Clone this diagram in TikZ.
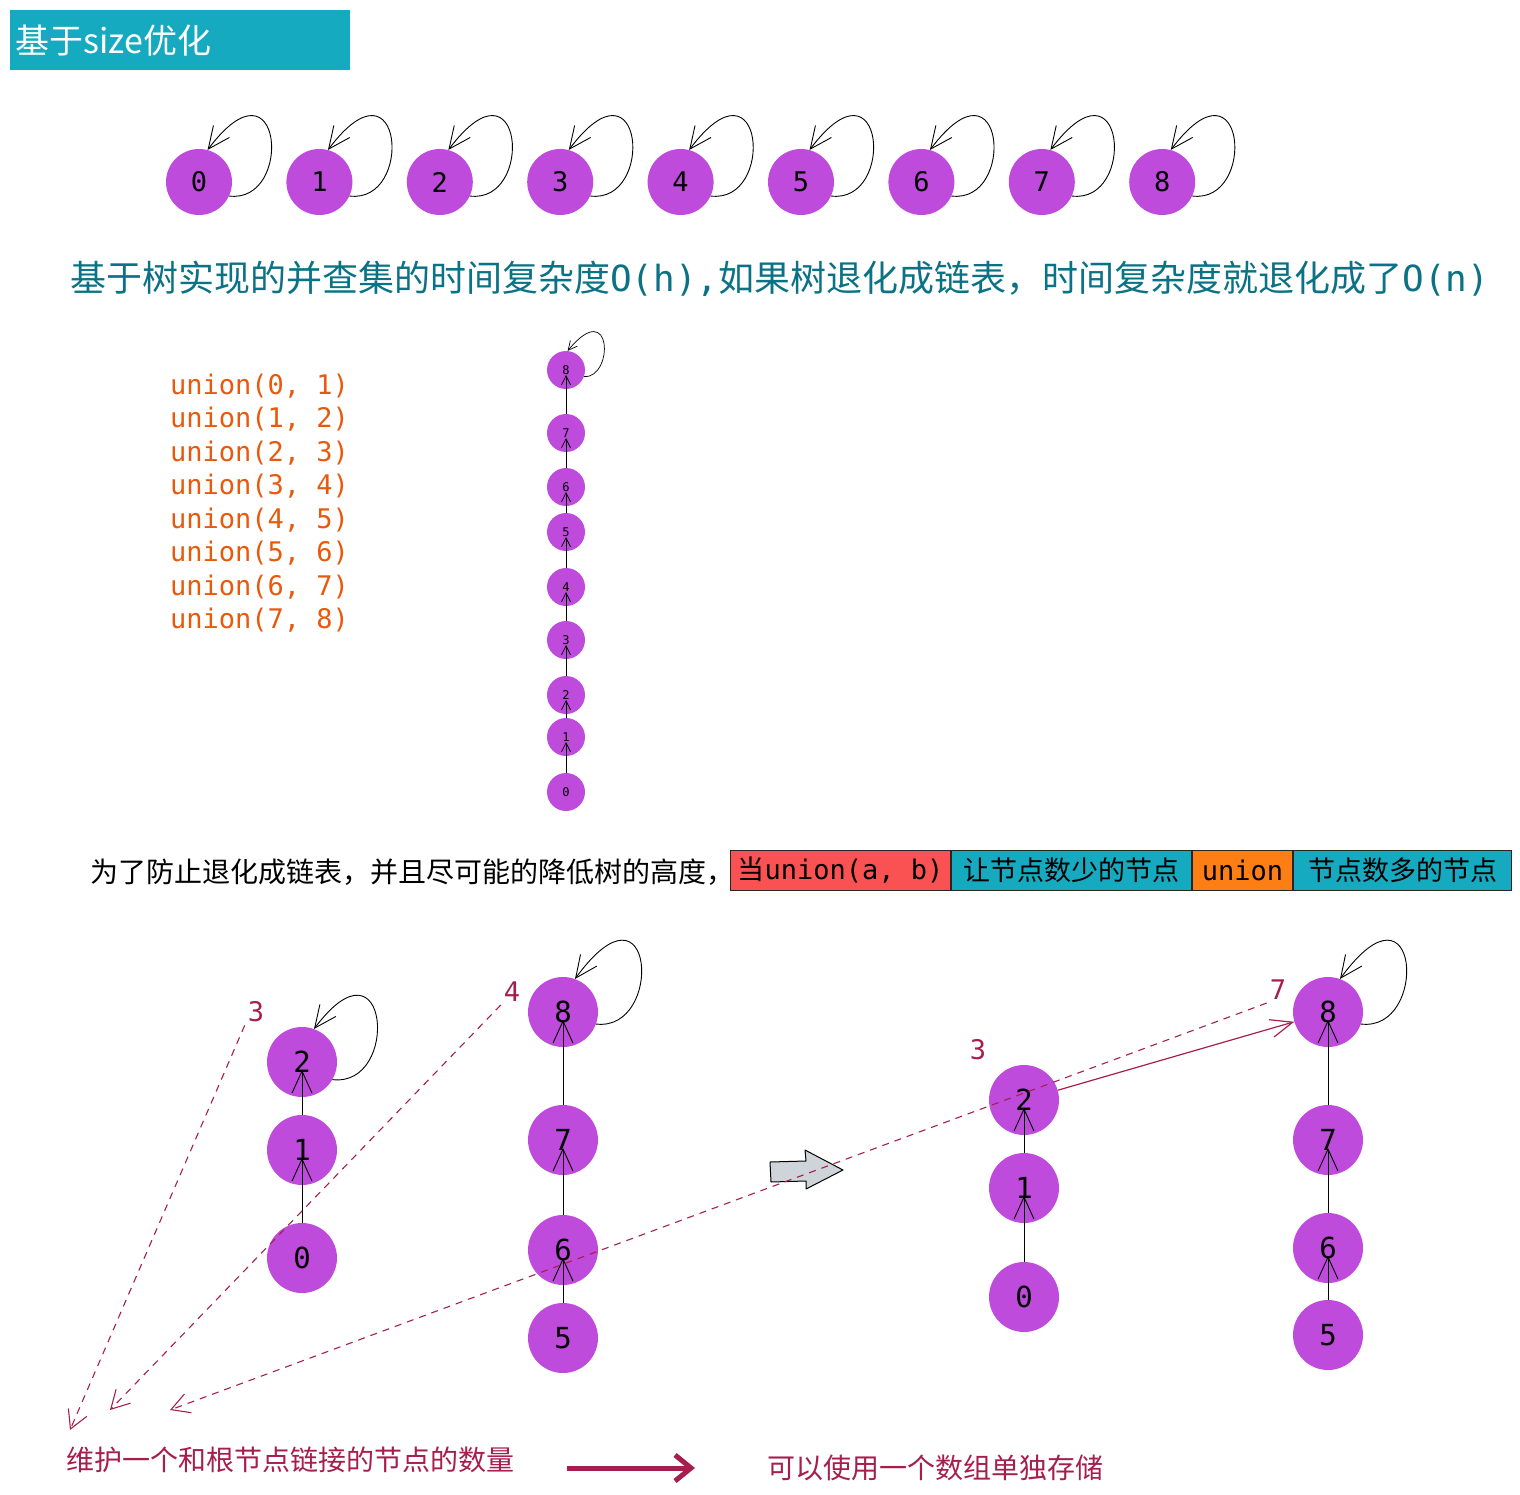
\documentclass[tikz,border=0pt]{standalone}
\usepackage{fontspec}
\setmainfont{Noto Sans CJK SC}
\newfontfamily\monofont{DejaVu Sans Mono}
\usepackage{tikz}
\usetikzlibrary{arrows.meta,positioning,calc}
\definecolor{nodefill}{HTML}{BE4BDB}
\definecolor{sizepink}{HTML}{A61E4D}
\definecolor{headteal}{HTML}{0B7285}
\definecolor{unionorange}{HTML}{E8590C}
\definecolor{boxcyan}{HTML}{15AABF}
\definecolor{boxred}{HTML}{FA5252}
\definecolor{boxorange}{HTML}{FD7E14}
\definecolor{arrowgray}{HTML}{CED4DA}

\begin{document}
\begin{tikzpicture}[x=1pt, y=-1pt, node distance=54pt, every node/.style={font=\monofont\fontsize{27}{30}\selectfont}, elem/.style={circle, fill=nodefill, minimum size=66pt, inner sep=0pt}, chainnode/.style={circle, fill=nodefill, minimum size=38pt, inner sep=0pt, font=\monofont\fontsize{12}{14}\selectfont}, big/.style={circle, fill=nodefill, minimum size=70pt, inner sep=0pt, font=\monofont\fontsize{29}{32}\selectfont}, selfloop/.style={-{Straight Barb[length=22pt,width=20pt]}, line width=0.9pt}, smallloop/.style={-{Straight Barb[length=9pt,width=9pt]}, line width=0.7pt}, parent/.style={-{Straight Barb[length=22pt,width=20pt]}, line width=0.9pt, shorten >=8pt}, chainparent/.style={-{Straight Barb[length=9pt,width=9pt]}, line width=0.7pt, shorten >=5pt}, size/.style={text=sizepink, inner sep=3pt}, dashlink/.style={draw=sizepink, line width=1.1pt, dash pattern=on 7pt off 6pt, -{Straight Barb[length=18pt,width=20pt]}}, unionlink/.style={draw=sizepink, line width=1.2pt, -{Straight Barb[length=22pt,width=18pt]}}, bigarrow/.style={draw=sizepink, line width=5pt, -{Straight Barb[length=16pt,width=26pt]}}, tag/.style={draw=black!85, line width=1pt, minimum height=40pt, inner sep=2pt, font=\fontsize{27}{30}\selectfont}, cjk/.style={inner sep=0pt, font=\fontsize{28}{30}\selectfont}]
\useasboundingbox (0,0) rectangle (1520,1495);

% title
\node[fill=boxcyan, text=white, anchor=north west, minimum height=60pt, text width=330pt, align=left, inner xsep=5pt, font=\fontsize{34}{36}\selectfont] (title) at (10,10) {基于size优化};

% every element is its own root
\node[elem] (s0) at (199,182) {0};
\node[elem,right=of s0] (s1) {1};
\node[elem,right=of s1] (s2) {2};
\node[elem,right=of s2] (s3) {3};
\node[elem,right=of s3] (s4) {4};
\node[elem,right=of s4] (s5) {5};
\node[elem,right=of s5] (s6) {6};
\node[elem,right=of s6] (s7) {7};
\node[elem,right=of s7] (s8) {8};
\draw[selfloop] (s0.-25) .. controls +(65,8) and +(75,-100) .. (s0.75);
\draw[selfloop] (s1.-25) .. controls +(65,8) and +(75,-100) .. (s1.75);
\draw[selfloop] (s2.-25) .. controls +(65,8) and +(75,-100) .. (s2.75);
\draw[selfloop] (s3.-25) .. controls +(65,8) and +(75,-100) .. (s3.75);
\draw[selfloop] (s4.-25) .. controls +(65,8) and +(75,-100) .. (s4.75);
\draw[selfloop] (s5.-25) .. controls +(65,8) and +(75,-100) .. (s5.75);
\draw[selfloop] (s6.-25) .. controls +(65,8) and +(75,-100) .. (s6.75);
\draw[selfloop] (s7.-25) .. controls +(65,8) and +(75,-100) .. (s7.75);
\draw[selfloop] (s8.-25) .. controls +(65,8) and +(75,-100) .. (s8.75);

\node[text=headteal, anchor=west, inner sep=0pt, font=\fontsize{36}{40}\selectfont] (heading) at (70,279) {基于树实现的并查集的时间复杂度{\monofont O(h),}如果树退化成链表，时间复杂度就退化成了{\monofont O(n)}};

% the chain
\node[text=unionorange, anchor=west, align=left, inner sep=0pt, font=\monofont\fontsize{27}{33.5}\selectfont] (calls) at (170,503) {union(0, 1)\\union(1, 2)\\union(2, 3)\\union(3, 4)\\union(4, 5)\\union(5, 6)\\union(6, 7)\\union(7, 8)};
\node[chainnode] (ch8) at (566,370) {8};
\node[chainnode] (ch7) at (566,433) {7};
\node[chainnode] (ch6) at (566,487) {6};
\node[chainnode] (ch5) at (566,532) {5};
\node[chainnode] (ch4) at (566,587) {4};
\node[chainnode] (ch3) at (566,640) {3};
\node[chainnode] (ch2) at (566,695) {2};
\node[chainnode] (ch1) at (566,737) {1};
\node[chainnode] (ch0) at (566,792) {0};
\draw[chainparent] (ch0.north) -- (ch1.center);
\draw[chainparent] (ch1.north) -- (ch2.center);
\draw[chainparent] (ch2.north) -- (ch3.center);
\draw[chainparent] (ch3.north) -- (ch4.center);
\draw[chainparent] (ch4.north) -- (ch5.center);
\draw[chainparent] (ch5.north) -- (ch6.center);
\draw[chainparent] (ch6.north) -- (ch7.center);
\draw[chainparent] (ch7.north) -- (ch8.center);
\draw[smallloop] (ch8.-20) .. controls +(30,2) and +(45,-55) .. (ch8.85);

% rule
\node[cjk, anchor=west] (why) at (90,872) {为了防止退化成链表，并且尽可能的降低树的高度，};
\node[tag, fill=boxred, minimum width=220pt, anchor=west] (when) at (730,870) {当{\monofont union(a, b)}};
\node[tag, fill=boxcyan, minimum width=240pt, right=0pt of when] (small) {让节点数少的节点};
\node[tag, fill=boxorange, minimum width=100pt, right=0pt of small] (op) {\monofont union};
\node[tag, fill=boxcyan, minimum width=218pt, right=0pt of op] (large) {节点数多的节点};

% before
\node[big] (p2) at (302,1062) {2};
\node[big] (p1) at (302,1150) {1};
\node[big] (p0) at (302,1258) {0};
\node[big] (q8) at (563,1012) {8};
\node[big] (q7) at (563,1140) {7};
\node[big] (q6) at (563,1250) {6};
\node[big] (q5) at (563,1338) {5};
\node[size] (sizep) at (256,1012) {3};
\node[size] (sizeq) at (512,992) {4};
\draw[parent] (p0.north) -- (p1.center);
\draw[parent] (p1.north) -- (p2.center);
\draw[selfloop] (p2.-30) .. controls +(68,8) and +(75,-100) .. (p2.70);
\draw[parent] (q5.north) -- (q6.center);
\draw[parent] (q6.north) -- (q7.center);
\draw[parent] (q7.north) -- (q8.center);
\draw[selfloop] (q8.-20) .. controls +(68,8) and +(80,-110) .. (q8.70);

\draw[fill=arrowgray, line width=1pt, line join=round] (770,1162) -- (806,1161) -- (805,1150) -- (843,1170) -- (806,1189) -- (806,1181) -- (771,1182) -- cycle;

% after
\node[big] (r2) at (1024,1100) {2};
\node[big] (r1) at (1024,1188) {1};
\node[big] (r0) at (1024,1297) {0};
\node[big] (u8) at (1328,1012) {8};
\node[big] (u7) at (1328,1140) {7};
\node[big] (u6) at (1328,1248) {6};
\node[big] (u5) at (1328,1335) {5};
\node[size] (sizer) at (978,1050) {3};
\node[size] (sizeu) at (1278,990) {7};
\draw[parent] (r0.north) -- (r1.center);
\draw[parent] (r1.north) -- (r2.center);
\draw[parent] (u5.north) -- (u6.center);
\draw[parent] (u6.north) -- (u7.center);
\draw[parent] (u7.north) -- (u8.center);
\draw[selfloop] (u8.-20) .. controls +(68,8) and +(80,-110) .. (u8.70);
\draw[unionlink] (r2) -- (u8);

% notes
\node[cjk, text=sizepink, anchor=west] (count) at (66,1460) {维护一个和根节点链接的节点的数量};
\node[cjk, text=sizepink, anchor=west] (store) at (767,1468) {可以使用一个数组单独存储};
\coordinate (enda) at (70,1430);
\coordinate (endb) at (110,1410);
\coordinate (endc) at (170,1410);
\draw[dashlink] (sizep.south west) -- (enda);
\draw[dashlink] (sizeq.south west) -- (endb);
\draw[dashlink] (sizeu.south west) -- (endc);
\draw[bigarrow] ($(count.east |- store.west)+(53,0)$) -- ($(store.west)+(-72,0)$);
\end{tikzpicture}
\end{document}
